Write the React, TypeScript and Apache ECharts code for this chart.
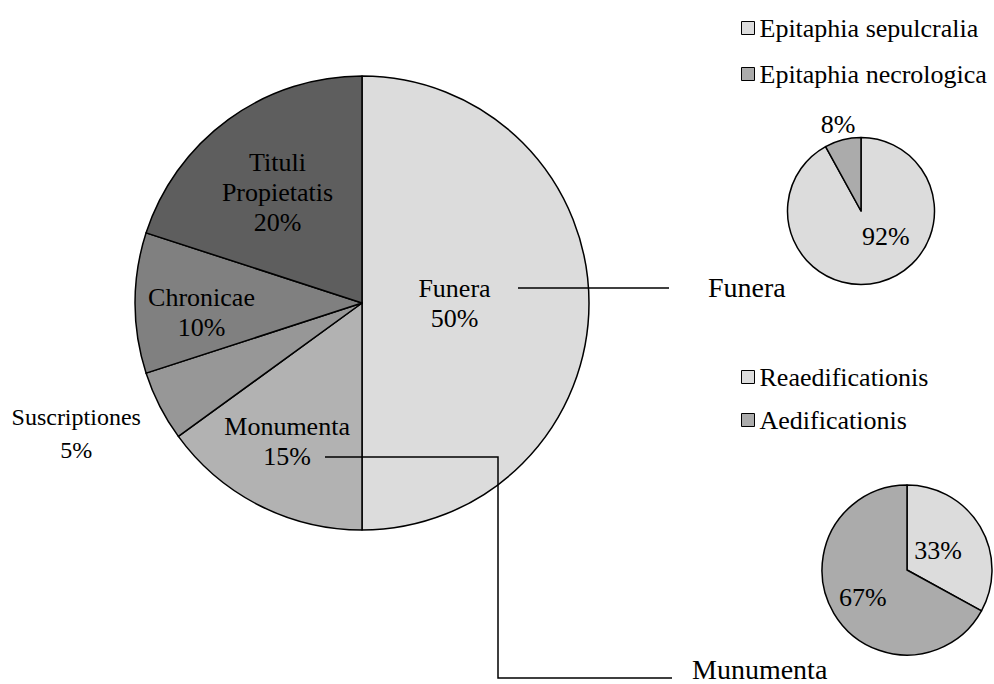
import React, { useEffect, useRef } from "react";
import * as echarts from "echarts";

const mainNames = ["Funera", "Monumenta", "Suscriptiones", "Chronicae", "Tituli Propietatis"];
const mainValues = [50, 15, 5, 10, 20];
const mainColors = ["#dcdcdc", "#b2b2b2", "#979797", "#808080", "#5e5e5e"];

const funeraNames = ["Epitaphia sepulcralia", "Epitaphia necrologica"];
const funeraValues = [92, 8];

const monumentaNames = ["Reaedificationis", "Aedificationis"];
const monumentaValues = [33, 67];

const subColors = ["#dcdcdc", "#ababab"];

const FONT = "'Liberation Serif', 'Times New Roman', serif";

const mainOffsets = [
  [-24, 0],
  [-22, 35],
  [-182, 78],
  [-44, 9],
  [-16, -16],
];
const funeraOffsets = [
  [15, -13],
  [-13, -48],
];
const monumentaOffsets = [
  [-8, 4],
  [-5, 4],
];

export default function App() {
  const ref = useRef<HTMLDivElement>(null);
  useEffect(() => {
    if (!ref.current) return;
    const chart = echarts.init(ref.current, null, { renderer: "svg" });
    const mkData = (names: string[], values: number[], colors: string[]) =>
      names.map((n, i) => ({ name: n, value: values[i], itemStyle: { color: colors[i] } }));
    const baseLabel = {
      show: true,
      position: "inside",
      color: "#000",
      fontFamily: FONT,
      fontSize: 26,
      lineHeight: 30,
    };
    chart.setOption({
      animation: false,
      backgroundColor: "#fff",
      textStyle: { fontFamily: FONT },
      legend: [
        {
          orient: "vertical",
          left: 736,
          top: 10,
          itemWidth: 13,
          itemHeight: 13,
          itemGap: 20,
          icon: "rect",
          data: funeraNames,
          textStyle: { fontFamily: FONT, fontSize: 26, color: "#000" },
          itemStyle: { borderColor: "#000", borderWidth: 1 },
          selectedMode: false,
        },
        {
          orient: "vertical",
          left: 736,
          top: 359,
          itemWidth: 13,
          itemHeight: 13,
          itemGap: 17,
          icon: "rect",
          data: monumentaNames,
          textStyle: { fontFamily: FONT, fontSize: 26, color: "#000" },
          itemStyle: { borderColor: "#000", borderWidth: 1 },
          selectedMode: false,
        },
      ],
      graphic: [
        {
          type: "polyline",
          shape: { points: [[518, 288], [669, 288]] },
          style: { stroke: "#000", lineWidth: 1.5, fill: null },
          z: 100,
        },
        {
          type: "polyline",
          shape: { points: [[325, 457], [498, 457], [498, 678], [672, 678]] },
          style: { stroke: "#000", lineWidth: 1.5, fill: null },
          z: 100,
        },
        {
          type: "text",
          x: 708,
          y: 287,
          style: {
            text: "Funera",
            fontFamily: FONT,
            fontSize: 28,
            fill: "#000",
            textAlign: "left",
            textVerticalAlign: "middle",
          },
          z: 100,
        },
        {
          type: "text",
          x: 692,
          y: 669,
          style: {
            text: "Munumenta",
            fontFamily: FONT,
            fontSize: 28,
            fill: "#000",
            textAlign: "left",
            textVerticalAlign: "middle",
          },
          z: 100,
        },
      ],
      series: [
        {
          type: "pie",
          center: [362, 303],
          radius: 227,
          startAngle: 90,
          clockwise: true,
          itemStyle: { borderColor: "#000", borderWidth: 1.5 },
          label: {
            ...baseLabel,
            formatter: (p: any) => {
              const name = p.name === "Tituli Propietatis" ? "Tituli\nPropietatis" : p.name;
              return `${name}\n${Math.round(p.percent)}%`;
            },
          },
          labelLine: { show: false },
          labelLayout: (p: any) => ({ dx: mainOffsets[p.dataIndex][0], dy: mainOffsets[p.dataIndex][1] }),
          emphasis: { disabled: true },
          data: mkData(mainNames, mainValues, mainColors).map((d) =>
            d.name === "Suscriptiones"
              ? { ...d, label: { fontFamily: FONT, fontSize: 24, lineHeight: 33 } }
              : d
          ),
        },
        {
          type: "pie",
          center: [861, 211],
          radius: 73.5,
          startAngle: 90,
          clockwise: true,
          itemStyle: { borderColor: "#000", borderWidth: 1.5 },
          label: { ...baseLabel, formatter: (p: any) => `${Math.round(p.percent)}%` },
          labelLine: { show: false },
          labelLayout: (p: any) => ({ dx: funeraOffsets[p.dataIndex][0], dy: funeraOffsets[p.dataIndex][1] }),
          emphasis: { disabled: true },
          data: mkData(funeraNames, funeraValues, subColors),
        },
        {
          type: "pie",
          center: [907, 570],
          radius: 85,
          startAngle: 90,
          clockwise: true,
          itemStyle: { borderColor: "#000", borderWidth: 1.5 },
          label: { ...baseLabel, formatter: (p: any) => `${Math.round(p.percent)}%` },
          labelLine: { show: false },
          labelLayout: (p: any) => ({ dx: monumentaOffsets[p.dataIndex][0], dy: monumentaOffsets[p.dataIndex][1] }),
          emphasis: { disabled: true },
          data: mkData(monumentaNames, monumentaValues, subColors),
        },
      ],
    });
    return () => chart.dispose();
  }, []);
  return (
    <div
      ref={ref}
      style={{ position: "fixed", left: 0, top: 0, width: 994, height: 684, background: "#fff" }}
    />
  );
}
